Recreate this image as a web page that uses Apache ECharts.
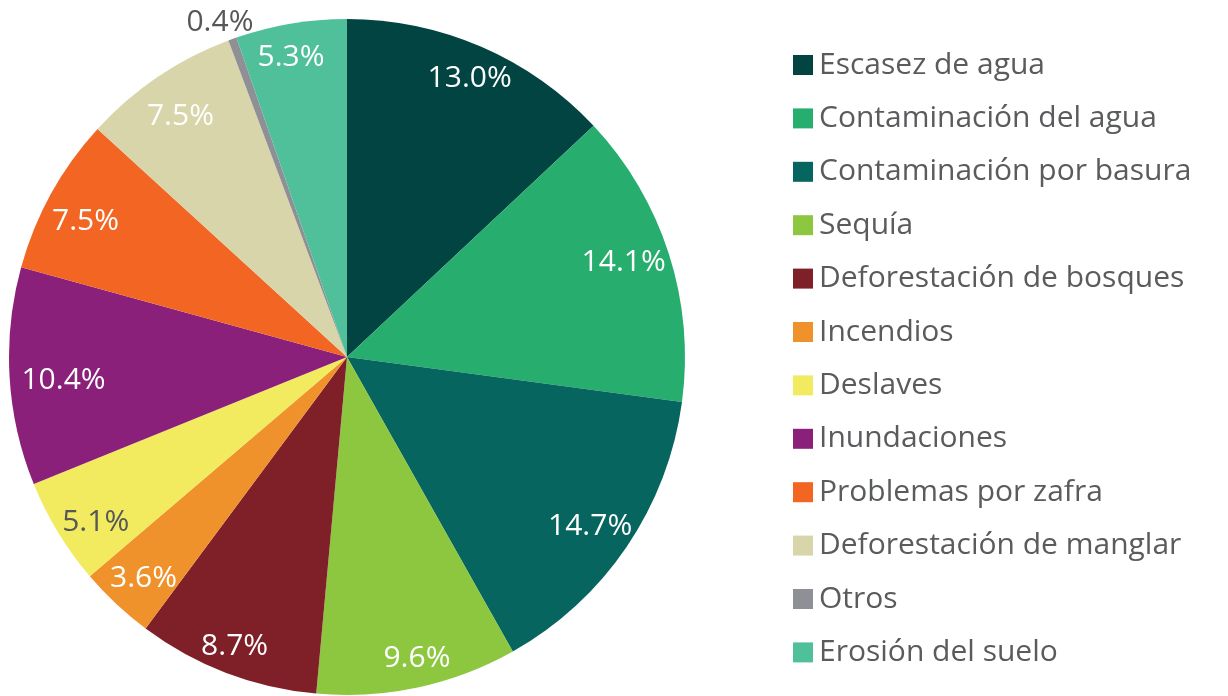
<!DOCTYPE html>
<html>
<head>
<meta charset="utf-8">
<script src="https://cdn.jsdelivr.net/npm/echarts@6/dist/echarts.min.js"></script>
<style>
  html, body { margin: 0; padding: 0; background: #ffffff; }
  #chart { width: 1228px; height: 696px; }
</style>
</head>
<body>
<div id="chart"></div>
<script>
// Problemas ambientales: share of responses (%)
const categories = [
  'Escasez de agua', 'Contaminación del agua', 'Contaminación por basura', 'Sequía',
  'Deforestación de bosques', 'Incendios', 'Deslaves', 'Inundaciones',
  'Problemas por zafra', 'Deforestación de manglar', 'Otros', 'Erosión del suelo'
];
const values = [13.0, 14.1, 14.7, 9.6, 8.7, 3.6, 5.1, 10.4, 7.5, 7.5, 0.4, 5.3];
const colors = [
  '#024442', '#27ae6f', '#076560', '#8dc63f', '#7f1f28', '#f0922b',
  '#f2ea5f', '#8a2079', '#f26522', '#d8d5ab', '#8f9095', '#50c09a'
];

// ---- layout / styling ----
const FONT = '"Open Sans", "Noto Sans", sans-serif';
const CENTER = [347, 357];
const R = 338;
// labels on light slices (and the one outside the pie) are dark grey
const darkLabel = ['Deslaves', 'Otros'];
// small nudges of individual percentage labels, in pixels
const labelNudge = [
  [3, -2], [-10, -3], [-6, 1], [7, 7], [-5, 8], [2, 2],
  [6, 9], [17, 6], [2, 10], [2, 9], [-25, -51], [-6, -3]
];

const chart = echarts.init(document.getElementById('chart'), null, { renderer: 'canvas' });

const pieData = categories.map((name, i) => ({
  name, value: values[i], itemStyle: { color: colors[i] }
}));

// transparent ring used only to place the percentage labels near the rim
const labelData = categories.map((name, i) => ({
  name, value: values[i],
  itemStyle: { color: 'rgba(0,0,0,0)' },
  label: {
    color: darkLabel.includes(name) ? '#555759' : '#ffffff',
    offset: labelNudge[i]
  }
}));

chart.setOption({
  animation: false,
  color: colors,
  legend: {
    orient: 'vertical',
    left: 788,
    top: 45,
    itemWidth: 20,
    itemHeight: 20,
    itemGap: 23.4,
    icon: 'rect',
    data: categories,
    textStyle: {
      fontFamily: FONT,
      fontSize: 30,
      lineHeight: 30,
      color: '#5a5b5d',
      padding: [0, 0, 0, 1]
    }
  },
  series: [
    {
      type: 'pie',
      center: CENTER,
      radius: [0, R],
      startAngle: 90,
      clockwise: true,
      label: { show: false },
      labelLine: { show: false },
      emphasis: { disabled: true },
      silent: true,
      data: pieData
    },
    {
      type: 'pie',
      center: CENTER,
      radius: [258, R],
      startAngle: 90,
      clockwise: true,
      silent: true,
      legendHoverLink: false,
      emphasis: { disabled: true },
      label: {
        show: true,
        position: 'inside',
        fontFamily: FONT,
        fontSize: 30,
        formatter: p => p.value.toFixed(1) + '%'
      },
      labelLine: { show: false },
      data: labelData
    }
  ]
});
</script>
</body>
</html>
